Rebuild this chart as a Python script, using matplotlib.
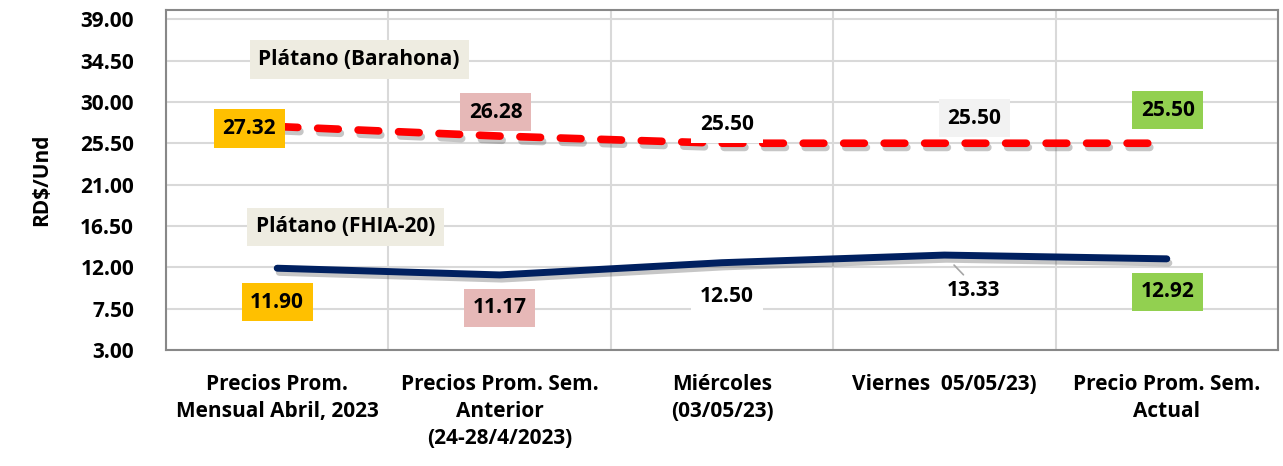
import matplotlib.pyplot as plt
import matplotlib.patheffects as pe
import numpy as np

plt.rcParams['font.family'] = ['Open Sans', 'DejaVu Sans']
plt.rcParams['font.weight'] = 'bold'

categorias = ['Precios Prom.\nMensual Abril, 2023',
              'Precios Prom. Sem.\nAnterior\n(24-28/4/2023)',
              'Miércoles\n(03/05/23)',
              'Viernes  05/05/23)',
              'Precio Prom. Sem.\nActual']
barahona = [27.32, 26.28, 25.50, 25.50, 25.50]
fhia20 = [11.90, 11.17, 12.50, 13.33, 12.92]
yticks = [3.00, 7.50, 12.00, 16.50, 21.00, 25.50, 30.00, 34.50, 39.00]

box_colors = ['#FFC000', '#E6B8B7', 'white', '#F2F2F2', '#92D050']
FS = 15

fig = plt.figure(figsize=(12.83, 4.66), dpi=100)
ax = fig.add_axes([166/1283, 1-350/466, (1278-166)/1283, (350-10)/466])

x = np.arange(len(categorias))
shadow = [pe.SimpleLineShadow(offset=(1.5, -3), shadow_color='#444444', alpha=0.3, rho=0.3), pe.Normal()]
ax.plot(x, barahona, color='#FF0000', lw=5.5, ls=(0, (2.7, 2.6)), dash_capstyle='round',
        path_effects=shadow, zorder=3)
ax.plot(x, fhia20, color='#002060', lw=5, solid_capstyle='round', path_effects=shadow, zorder=3)

ax.set_xlim(-0.5, len(categorias) - 0.5)
ax.set_ylim(3, 40)
ax.set_yticks(yticks)
ax.set_yticklabels([f'{v:.2f}' for v in yticks], fontsize=FS, fontweight='bold')
ax.set_xticks(x)
ax.set_xticklabels(categorias, fontsize=FS, fontweight='bold', linespacing=1.4)
ax.tick_params(length=0)
ax.tick_params(axis='y', pad=23)
ax.tick_params(axis='x', pad=17)
ax.set_xticks(np.arange(len(categorias) + 1) - 0.5, minor=True)
ax.grid(axis='y', which='major', color='#D9D9D9', lw=1.5)
ax.grid(axis='x', which='minor', color='#D9D9D9', lw=1.5)
ax.tick_params(which='minor', length=0)
for s in ax.spines.values():
    s.set_color('#888888')
    s.set_linewidth(1.5)
ax.set_ylabel('RD$/Und', fontsize=FS, fontweight='bold', labelpad=20)

# data labels for Barahona (offsets in pixels)
off_b = [(-28, -2), (-4, 24), (5, 19), (30, 25), (1, 33)]
for i, (v, c) in enumerate(zip(barahona, box_colors)):
    ax.annotate(f'{v:.2f}', (x[i], v), xytext=off_b[i], textcoords='offset pixels',
                ha='center', va='center', fontsize=FS, fontweight='bold', zorder=5,
                bbox=dict(boxstyle='square,pad=0.42', fc=c, ec='none'))

off_f = [(0, -34), (0, -33), (5, -34), (29, -35), (1, -33)]
for i, (v, c) in enumerate(zip(fhia20, box_colors)):
    if i == 3:
        ax.annotate(f'{v:.2f}', (x[i], v), xytext=off_f[i], textcoords='offset pixels',
                    ha='center', va='center', fontsize=FS, fontweight='bold', zorder=5,
                    arrowprops=dict(arrowstyle='-', color='#A6A6A6', lw=1.2, shrinkA=2,
                                    shrinkB=10, relpos=(0.4, 1)))
    else:
        ax.annotate(f'{v:.2f}', (x[i], v), xytext=off_f[i], textcoords='offset pixels',
                    ha='center', va='center', fontsize=FS, fontweight='bold', zorder=5,
                    bbox=dict(boxstyle='square,pad=0.42', fc=c, ec='none'))

# series names
ax.text(0.368, 34.6, 'Plátano (Barahona)', ha='center', va='center', fontsize=FS,
        fontweight='bold', zorder=5, bbox=dict(boxstyle='square,pad=0.42', fc='#EEECE1', ec='none'))
ax.text(0.309, 16.4, 'Plátano (FHIA-20)', ha='center', va='center', fontsize=FS,
        fontweight='bold', zorder=5, bbox=dict(boxstyle='square,pad=0.42', fc='#EEECE1', ec='none'))

fig.savefig('out.png', dpi=100)
